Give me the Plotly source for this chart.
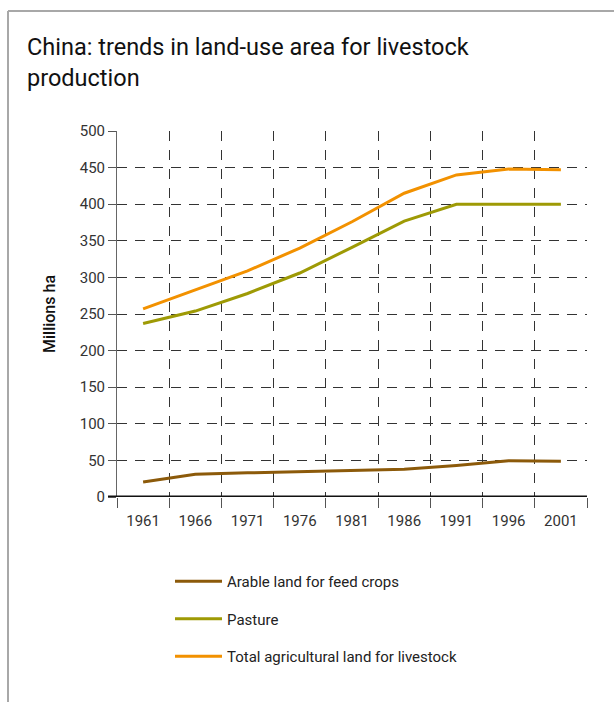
import plotly.graph_objects as go

# Land-use area (millions of hectares) devoted to livestock production in China
years = ["1961", "1966", "1971", "1976", "1981", "1986", "1991", "1996", "2001"]
arable_feed = [20.5, 31, 33, 35, 37, 38, 43, 49.5, 49]
pasture = [237, 254, 278, 306, 341, 377, 400, 400, 400]
total_livestock = [257, 283, 309, 340, 376, 415, 440, 448, 447]

series_names = ["Arable land for feed crops", "Pasture", "Total agricultural land for livestock"]
series_colors = ["#8c5a0a", "#9e9a05", "#f29100"]

W, H = 614, 702
L, R, T, B = 117, 27, 131, 205
plot_w = W - L - R
plot_h = H - T - B


def px_x(px):
    return (px - L) / plot_w


def px_y(py):
    return (H - B - py) / plot_h


fig = go.Figure()
for i, (name, vals, col) in enumerate(zip(series_names, [arable_feed, pasture, total_livestock], series_colors)):
    fig.add_trace(go.Scatter(
        x=years, y=vals, mode="lines", name=name,
        line=dict(color=col, width=3),
        legendgroup=f"g{i}",
    ))

font_family = "Roboto, 'DejaVu Sans', sans-serif"

fig.update_layout(
    width=W, height=H,
    margin=dict(l=L, r=R, t=T, b=B),
    paper_bgcolor="white",
    plot_bgcolor="white",
    font=dict(family=font_family, color="#222222"),
    showlegend=True,
    legend=dict(
        x=px_x(170), y=px_y(565),
        xanchor="left", yanchor="top",
        orientation="v",
        tracegroupgap=15,
        font=dict(size=15, color="#222222"),
        bgcolor="rgba(0,0,0,0)",
        itemwidth=47,
    ),
    xaxis=dict(
        type="category",
        tickson="boundaries",
        showgrid=True,
        gridcolor="#333333",
        gridwidth=1,
        griddash="10px,9px",
        ticks="outside",
        ticklen=10,
        tickcolor="#555555",
        ticklabelstandoff=13,
        tickfont=dict(size=15, color="#333333"),
        showline=False,
        zeroline=False,
        range=[-0.5, 8.5],
        fixedrange=True,
    ),
    yaxis=dict(
        range=[0, 500],
        tickvals=list(range(0, 501, 50)),
        showgrid=True,
        gridcolor="#333333",
        gridwidth=1,
        griddash="10px,8px",
        ticks="outside",
        ticklen=8,
        tickcolor="#555555",
        tickfont=dict(size=15, color="#333333"),
        showline=True,
        linecolor="#666666",
        linewidth=1,
        zeroline=False,
        title=dict(text="Millions ha", font=dict(size=16, color="#111111", weight=500), standoff=20),
        fixedrange=True,
    ),
    annotations=[
        dict(
            text="China: trends in land-use area for livestock<br>production",
            xref="paper", yref="paper",
            x=px_x(25), y=px_y(31),
            xanchor="left", yanchor="top", align="left",
            showarrow=False,
            font=dict(size=23.5, color="#111111", family=font_family),
        ),
    ],
    shapes=[
        # heavy baseline along zero
        dict(type="line", xref="paper", yref="y",
             x0=px_x(108), x1=1.0, y0=0, y1=0,
             line=dict(color="#111111", width=3), layer="above"),
        # panel frame: top and left edges
        dict(type="line", xref="paper", yref="paper",
             x0=px_x(8), x1=px_x(620), y0=px_y(11), y1=px_y(11),
             line=dict(color="#a8a8a8", width=2), layer="above"),
        dict(type="line", xref="paper", yref="paper",
             x0=px_x(8), x1=px_x(8), y0=px_y(11), y1=px_y(710),
             line=dict(color="#a8a8a8", width=2), layer="above"),
    ],
)

fig.write_html("out.html")
